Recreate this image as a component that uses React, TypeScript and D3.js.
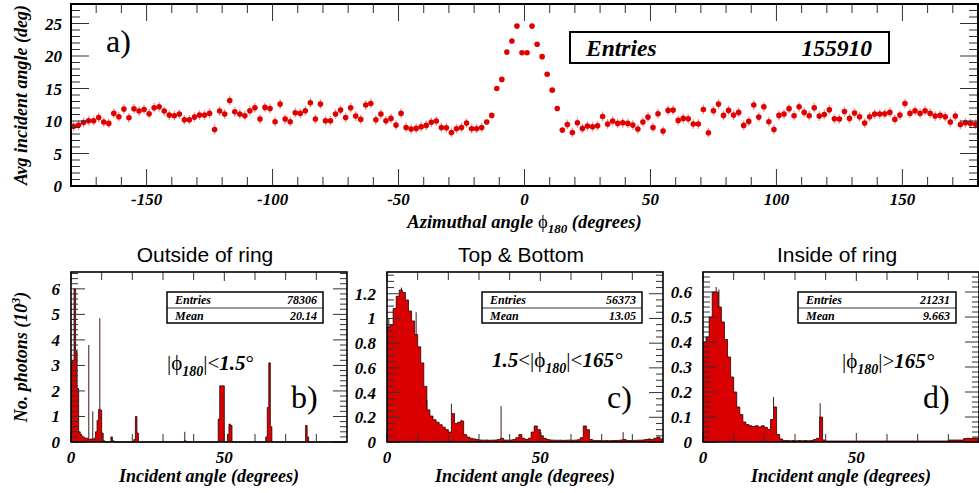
import React from "react";
import * as d3 from "d3";

// ---------------- DATA ----------------
// Panel a: average incident angle vs azimuthal angle (2-degree bins, centres -179..179)
const PHI_BIN_CENTERS = d3.range(-179, 180, 2);
const AVG_INCIDENT_ANGLE = [
  9.2, 9.37, 9.78, 10.04, 10.04, 10.55, 9.84, 9.63, 11.17, 10.66,
  11.83, 10.5, 11.88, 11.53, 11.78, 11.12, 12.04, 12.19, 11.53, 10.91,
  10.81, 11.07, 10.19, 10.19, 10.6, 10.91, 10.91, 11.17, 8.7, 11.53,
  11.07, 13.16, 11.42, 11.07, 10.81, 11.58, 12.04, 10.3, 12.09, 11.93,
  9.89, 12.6, 10.3, 9.89, 11.27, 11.17, 11.58, 12.81, 10.3, 12.6,
  10.04, 10.04, 11.07, 11.68, 10.55, 12.04, 10.76, 10.25, 12.45, 12.7,
  10.19, 11.07, 10.04, 10.4, 9.37, 11.17, 9.01, 8.76, 8.86, 9.12,
  9.32, 9.8, 9.99, 9.01, 8.96, 8.24, 8.81, 9.01, 9.68, 8.81,
  8.81, 9.01, 9.84, 10.86, 15.0, 16.4, 20.6, 22.3, 24.6, 20.5,
  20.5, 24.6, 21.8, 19.9, 17.2, 14.75, 11.93, 8.6, 9.47, 8.24,
  9.73, 8.86, 9.22, 9.12, 9.27, 10.7, 9.55, 9.99, 9.63, 9.73,
  9.63, 9.37, 8.76, 9.84, 10.6, 9.01, 11.12, 8.45, 11.63, 11.68,
  10.09, 10.4, 10.35, 9.53, 9.53, 11.78, 8.2, 11.58, 12.6, 10.86,
  11.63, 10.91, 11.32, 9.32, 9.94, 12.45, 10.6, 12.19, 9.89, 8.7,
  10.86, 11.07, 11.9, 10.81, 12.19, 11.32, 10.81, 12.04, 10.76, 11.01,
  11.73, 10.35, 10.3, 11.47, 10.4, 11.22, 10.66, 9.68, 10.66, 11.07,
  11.07, 11.12, 11.32, 10.25, 10.91, 12.7, 11.17, 11.58, 11.17, 11.58,
  11.17, 10.76, 10.86, 10.66, 9.84, 10.76, 9.47, 9.73, 9.63, 9.5,
];
const ERR_OUTER = 0.75;
const ERR_CORE = 0.3;
const TOP_X_TICKS = [-150, -100, -50, 0, 50, 100, 150];
const TOP_Y_TICKS = [0, 5, 10, 15, 20, 25];
const TOP_ENTRIES = "155910";

// Panel b: outside of ring (0.5-degree bins, [bin start, value in 10^3])
const B_BINS: [number, number][] = [
  [0.0, 3.1], [0.5, 3.2], [1.0, 6.0], [1.5, 3.55], [2.0, 2.1], [2.5, 0.4],
  [3.0, 0.3], [3.5, 0.22], [4.0, 0.18], [4.5, 0.15], [5.0, 0.15], [5.5, 0.12],
  [6.0, 0.1], [6.5, 0.12], [7.0, 0.1], [7.5, 0.15], [8.0, 0.4], [8.5, 0.85],
  [9.0, 1.28], [9.5, 1.25], [10.0, 0.35], [10.5, 0.05], [13.0, 0.2], [13.5, 0.05],
  [20.5, 0.1], [21.0, 1.0], [21.5, 0.35], [37.0, 0.05], [48.0, 0.9], [48.5, 2.2],
  [49.0, 2.2], [49.5, 2.2], [51.0, 0.3], [51.5, 0.7], [52.0, 0.65], [63.5, 0.2],
  [64.0, 1.35], [64.5, 3.1], [65.0, 0.6], [76.5, 0.65], [77.0, 0.2],
];
const B_SPIKES: [number, number][] = [[5.8, 3.8], [7.1, 1.2], [9.4, 4.85], [37.1, 0.4]];

// Panel c: top & bottom (1-degree bins 0..89, in 10^3)
const C_VALUES = [
  0.93, 0.95, 1.08, 1.18, 1.23, 1.21, 1.15, 1.06, 0.98, 0.87,
  0.77, 0.64, 0.45, 0.26, 0.21, 0.18, 0.16, 0.14, 0.12, 0.1,
  0.08, 0.23, 0.15, 0.16, 0.17, 0.06, 0.04, 0.03, 0.025, 0.02,
  0.016, 0.015, 0.016, 0.014, 0.015, 0.016, 0.02, 0.03, 0.016, 0.015,
  0.016, 0.02, 0.035, 0.06, 0.03, 0.02, 0.03, 0.08, 0.13, 0.1,
  0.05, 0.03, 0.02, 0.016, 0.015, 0.014, 0.015, 0.013, 0.014, 0.015,
  0.014, 0.015, 0.018, 0.035, 0.13, 0.1, 0.02, 0.013, 0.012, 0.012,
  0.011, 0.012, 0.011, 0.012, 0.012, 0.013, 0.016, 0.02, 0.012, 0.012,
  0.013, 0.014, 0.015, 0.016, 0.02, 0.025, 0.02, 0.03, 0.04, 0.025,
];
const C_SPIKES: [number, number][] = [
  [0.6, 1.0], [4.7, 1.25], [9.5, 1.05], [13.0, 0.34], [21.0, 0.31],
  [24.2, 0.18], [37.2, 0.29], [50.2, 0.08], [77.0, 0.08],
];

// Panel d: inside of ring (1-degree bins 0..89, in 10^3)
const D_VALUES = [
  0.4, 0.42, 0.5, 0.6, 0.6, 0.54, 0.48, 0.41, 0.34, 0.26,
  0.2, 0.14, 0.11, 0.08, 0.07, 0.065, 0.062, 0.065, 0.06, 0.065,
  0.058, 0.05, 0.09, 0.14, 0.03, 0.012, 0.006, 0.006, 0.005, 0.006,
  0.005, 0.006, 0.005, 0.006, 0.005, 0.006, 0.01, 0.015, 0.1, 0.008,
  0.004, 0.004, 0.004, 0.004, 0.004, 0.004, 0.004, 0.004, 0.004, 0.004,
  0.004, 0.004, 0.004, 0.004, 0.004, 0.004, 0.004, 0.004, 0.004, 0.004,
  0.004, 0.004, 0.004, 0.004, 0.004, 0.004, 0.004, 0.004, 0.004, 0.004,
  0.004, 0.004, 0.004, 0.004, 0.004, 0.004, 0.004, 0.004, 0.004, 0.004,
  0.008, 0.008, 0.008, 0.008, 0.008, 0.014, 0.015, 0.014, 0.016, 0.015,
];
const D_SPIKES: [number, number][] = [[4.3, 0.62], [5.2, 0.61], [23.0, 0.18], [38.2, 0.155]];

const B_Y_TICKS = [0, 1, 2, 3, 4, 5, 6];
const C_Y_TICKS = [0, 0.2, 0.4, 0.6, 0.8, 1, 1.2];
const D_Y_TICKS = [0, 0.1, 0.2, 0.3, 0.4, 0.5, 0.6];
const BOTTOM_X_LABELS = [0, 50];

const PANEL_TITLES = ["Outside of ring", "Top & Bottom", "Inside of ring"];
const PANEL_ENTRIES = ["78306", "56373", "21231"];
const PANEL_MEANS = ["20.14", "13.05", "9.663"];

// ---------------- STYLE ----------------
const SERIF = "'Liberation Serif', 'Times New Roman', serif";
const SANS = "'Liberation Sans', Arial, sans-serif";
const RED = "#d80000";
const MARK = "#e00000";

function dense(bins: [number, number][], width: number, max: number) {
  const n = Math.round(max / width);
  const arr = new Array(n).fill(0);
  bins.forEach(([s, v]) => {
    arr[Math.round(s / width)] = v;
  });
  return arr;
}

function Ticks({ scale, values, len, orient, at }: any) {
  return (
    <g stroke="#333" strokeWidth={1}>
      {values.map((v: number, i: number) => {
        const p = scale(v);
        if (orient === "left") return <line key={i} x1={at} x2={at + len} y1={p} y2={p} />;
        if (orient === "right") return <line key={i} x1={at} x2={at - len} y1={p} y2={p} />;
        if (orient === "bottom") return <line key={i} x1={p} x2={p} y1={at} y2={at - len} />;
        return <line key={i} x1={p} x2={p} y1={at} y2={at + len} />;
      })}
    </g>
  );
}

function TopPanel() {
  const L = 71, R = 978, T = 4, B = 186;
  const x = d3.scaleLinear().domain([-180, 180]).range([L, R]);
  const y = d3.scaleLinear().domain([0, 28]).range([B, T]);
  const xMinor = d3.range(-180, 181, 10).filter((v) => v % 50 !== 0);
  const yMinor = d3.range(0, 28.01, 1).filter((v) => v % 5 !== 0);
  const fnt = { fontFamily: SERIF, fontWeight: "bold", fontStyle: "italic" } as any;
  return (
    <g>
      <rect x={L} y={T} width={R - L} height={B - T} fill="white" />
      <g stroke="rgba(225,40,40,0.5)" strokeWidth={1.3}>
        {PHI_BIN_CENTERS.map((c, i) => {
          const v = AVG_INCIDENT_ANGLE[i];
          const e = Math.abs(c) < 16 ? ERR_CORE : ERR_OUTER;
          return <line key={i} x1={x(c)} x2={x(c)} y1={y(v - e)} y2={y(v + e)} />;
        })}
      </g>
      <g fill={MARK}>
        {PHI_BIN_CENTERS.map((c, i) => (
          <circle key={i} cx={x(c)} cy={y(AVG_INCIDENT_ANGLE[i])} r={2.8} />
        ))}
      </g>
      <Ticks scale={y} values={TOP_Y_TICKS} len={18} orient="left" at={L} />
      <Ticks scale={y} values={yMinor} len={9} orient="left" at={L} />
      <Ticks scale={y} values={TOP_Y_TICKS} len={18} orient="right" at={R} />
      <Ticks scale={y} values={yMinor} len={9} orient="right" at={R} />
      <Ticks scale={x} values={TOP_X_TICKS} len={17} orient="bottom" at={B} />
      <Ticks scale={x} values={xMinor} len={9} orient="bottom" at={B} />
      <Ticks scale={x} values={TOP_X_TICKS} len={17} orient="top" at={T} />
      <Ticks scale={x} values={xMinor} len={9} orient="top" at={T} />
      <rect x={L} y={T} width={R - L} height={B - T} fill="none" stroke="black" strokeWidth={2} />
      <g {...fnt} fontSize={17} textAnchor="end">
        {TOP_Y_TICKS.map((v) => (
          <text key={v} x={L - 9} y={y(v) + 6}>{v}</text>
        ))}
      </g>
      <g {...fnt} fontSize={17} textAnchor="middle">
        {TOP_X_TICKS.map((v) => (
          <text key={v} x={x(v)} y={205}>{v}</text>
        ))}
      </g>
      <text {...fnt} fontSize={18.5} textAnchor="middle" x={(L + R) / 2} y={228}>
        Azimuthal angle <tspan fontWeight="normal" fontStyle="normal">ϕ</tspan>
        <tspan fontSize={13} dy={5}>180</tspan>
        <tspan dy={-5}> (degrees)</tspan>
      </text>
      <text {...fnt} fontSize={18} textAnchor="middle" transform={`translate(27,${(T + B) / 2}) rotate(-90)`}>
        Avg incident angle (deg)
      </text>
      <text fontFamily={SERIF} fontSize={32} x={106} y={52}>a)</text>
      <rect x={570} y={32} width={319} height={31} fill="white" stroke="black" strokeWidth={2} />
      <text {...fnt} fontSize={23.5} x={586} y={56}>Entries</text>
      <text {...fnt} fontSize={23.5} x={872} y={56} textAnchor="end">{TOP_ENTRIES}</text>
    </g>
  );
}

function phiLabel(kind: number) {
  const bi = { fontWeight: "bold", fontStyle: "italic" } as any;
  const sub = (
    <>
      <tspan {...bi} fontSize={14} dy={6}>180</tspan>
      <tspan dy={-6}>|</tspan>
    </>
  );
  if (kind === 0)
    return (
      <>
        <tspan>|ϕ</tspan>{sub}<tspan>&lt;</tspan><tspan {...bi}>1.5</tspan><tspan>°</tspan>
      </>
    );
  if (kind === 1)
    return (
      <>
        <tspan {...bi}>1.5</tspan><tspan>&lt;|ϕ</tspan>{sub}<tspan>&lt;</tspan><tspan {...bi}>165°</tspan>
      </>
    );
  return (
    <>
      <tspan>|ϕ</tspan>{sub}<tspan>&gt;</tspan><tspan {...bi}>165°</tspan>
    </>
  );
}

function BottomPanel({ idx }: { idx: number }) {
  const L = [71, 387, 703][idx];
  const R = L + 276;
  const T = 272, B = 442;
  const yMax = [6.66, 1.376, 0.68][idx];
  const yTicks = [B_Y_TICKS, C_Y_TICKS, D_Y_TICKS][idx];
  const yMinorStep = [0.2, 0.05, 0.02][idx];
  const x = d3.scaleLinear().domain([0, 90]).range([L, R]);
  const y = d3.scaleLinear().domain([0, yMax]).range([B, T]);
  const width = idx === 0 ? 0.5 : 1;
  const values = idx === 0 ? dense(B_BINS, 0.5, 90) : idx === 1 ? C_VALUES : D_VALUES;
  const spikes = [B_SPIKES, C_SPIKES, D_SPIKES][idx];
  const pts = values.map((v: number, i: number) => [i * width, v] as [number, number]);
  pts.push([90, values[values.length - 1]]);
  const area = d3
    .area<[number, number]>()
    .x((d) => x(d[0]))
    .y0(B)
    .y1((d) => y(d[1]))
    .curve(d3.curveStepAfter);
  const line = d3
    .line<[number, number]>()
    .x((d) => x(d[0]))
    .y((d) => y(d[1]))
    .curve(d3.curveStepAfter);
  const baseAt = (s: number) => values[Math.min(values.length - 1, Math.floor(s / width))] || 0;
  const yMinor = d3.range(0, yMax, yMinorStep).filter(
    (v) => !yTicks.some((t) => Math.abs(t - v) < 1e-6)
  );
  const xMinor = d3.range(10, 90, 10).filter((v) => v !== 50);
  const fnt = { fontFamily: SERIF, fontWeight: "bold", fontStyle: "italic" } as any;
  const fmt = (v: number) => (idx === 0 ? String(v) : String(+v.toFixed(2)));
  const boxX = [167, 482, 798][idx];
  const boxW = [156, 160, 158][idx];
  const ann = [
    { x: 167, y: 370 },
    { x: 492, y: 367 },
    { x: 842, y: 368 },
  ][idx];
  return (
    <g>
      <text fontFamily={SANS} fontSize={21} textAnchor="middle" x={(L + R) / 2 - 4} y={262}>
        {PANEL_TITLES[idx]}
      </text>
      <rect x={L} y={T} width={R - L} height={B - T} fill="white" />
      <path d={area(pts) || ""} fill={RED} />
      <path d={line(pts) || ""} fill="none" stroke="#2a0000" strokeWidth={0.8} />
      <g stroke="#2a0000" strokeWidth={0.9}>
        {spikes.map(([s, v], i) => (
          <line key={i} x1={x(s)} x2={x(s)} y1={y(baseAt(s))} y2={y(v)} />
        ))}
      </g>
      <Ticks scale={y} values={yTicks} len={14} orient="left" at={L} />
      <Ticks scale={y} values={yMinor} len={7} orient="left" at={L} />
      <Ticks scale={y} values={yTicks} len={14} orient="right" at={R} />
      <Ticks scale={y} values={yMinor} len={7} orient="right" at={R} />
      <Ticks scale={x} values={BOTTOM_X_LABELS} len={9} orient="bottom" at={B} />
      <Ticks scale={x} values={xMinor} len={8} orient="bottom" at={B} />
      <Ticks scale={x} values={BOTTOM_X_LABELS} len={9} orient="top" at={T} />
      <Ticks scale={x} values={xMinor} len={8} orient="top" at={T} />
      <rect x={L} y={T} width={R - L} height={B - T} fill="none" stroke="black" strokeWidth={1.6} />
      <g {...fnt} fontSize={17} textAnchor="end">
        {yTicks.map((v) => (
          <text key={v} x={L - 11} y={y(v) + 6}>{fmt(v)}</text>
        ))}
      </g>
      <g {...fnt} fontSize={17} textAnchor="middle">
        {BOTTOM_X_LABELS.map((v) => (
          <text key={v} x={x(v)} y={463}>{v}</text>
        ))}
      </g>
      <text {...fnt} fontSize={18} textAnchor="middle" x={(L + R) / 2} y={482}>
        Incident angle (degrees)
      </text>
      <rect x={boxX} y={292} width={boxW} height={31} fill="white" stroke="black" strokeWidth={1.5} />
      <line x1={boxX} x2={boxX + boxW} y1={308} y2={308} stroke="black" strokeWidth={0.8} />
      <g {...fnt} fontSize={12}>
        <text x={boxX + 8} y={304}>Entries</text>
        <text x={boxX + 8} y={320}>Mean</text>
        <text x={boxX + boxW - 6} y={304} textAnchor="end">{PANEL_ENTRIES[idx]}</text>
        <text x={boxX + boxW - 6} y={320} textAnchor="end">{PANEL_MEANS[idx]}</text>
      </g>
      <text fontFamily={SERIF} fontSize={21} x={ann.x} y={ann.y}>
        {phiLabel(idx)}
      </text>
      <text fontFamily={SERIF} fontSize={32} x={R - 56} y={408}>
        {["b)", "c)", "d)"][idx]}
      </text>
    </g>
  );
}

export default function App() {
  return (
    <svg
      width={979}
      height={493}
      viewBox="0 0 979 493"
      style={{ position: "absolute", left: 0, top: 0, background: "white" }}
    >
      <rect x={0} y={0} width={979} height={493} fill="white" />
      <TopPanel />
      {[0, 1, 2].map((i) => (
        <BottomPanel key={i} idx={i} />
      ))}
      <text
        fontFamily={SERIF}
        fontWeight="bold"
        fontStyle="italic"
        fontSize={18}
        textAnchor="middle"
        transform={`translate(27,357) rotate(-90)`}
      >
        No. photons (10<tspan fontSize={12} dy={-7}>3</tspan><tspan dy={7}>)</tspan>
      </text>
    </svg>
  );
}
